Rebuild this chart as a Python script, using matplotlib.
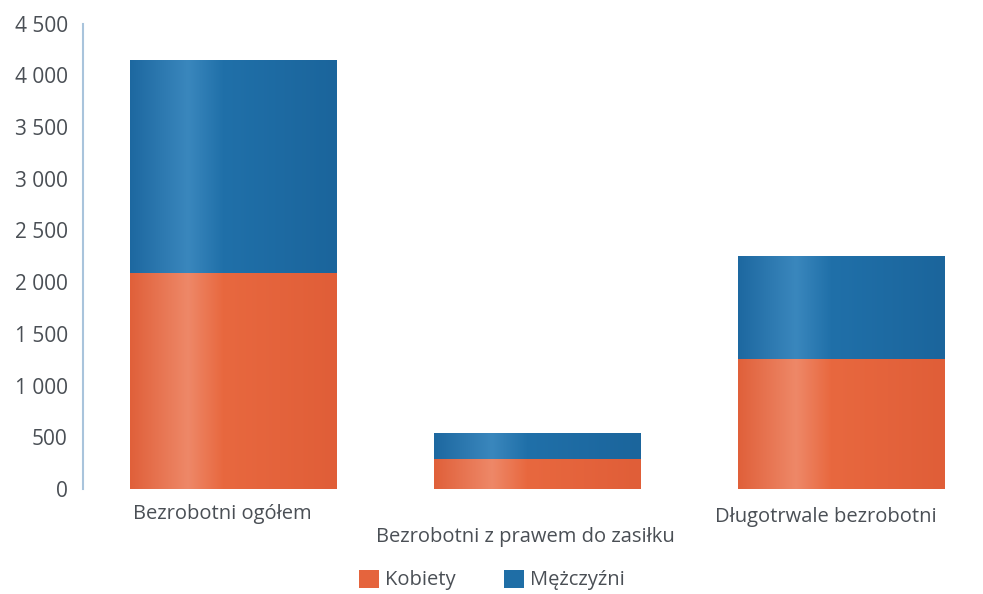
import numpy as np
import matplotlib.pyplot as plt
from matplotlib.colors import LinearSegmentedColormap

kategorie = ['Bezrobotni ogółem', 'Bezrobotni z prawem do zasiłku', 'Długotrwale bezrobotni']
kobiety = [2090, 290, 1260]
mezczyzni = [2060, 250, 990]
serie = ['Kobiety', 'Mężczyźni']
yticks = [0, 500, 1000, 1500, 2000, 2500, 3000, 3500, 4000, 4500]

plt.rcParams['font.family'] = ['Open Sans', 'DejaVu Sans']
kolor_txt = '#4a4f55'

c_kob = '#e5643d'
c_mez = '#1f6ea6'

# gradient "cylindryczny" jak w oryginale (delikatny)
cm_kob = LinearSegmentedColormap.from_list('kob', [(0, '#e0603a'), (0.28, '#ee8868'), (0.45, '#e8683f'), (1, '#e05e38')])
cm_mez = LinearSegmentedColormap.from_list('mez', [(0, '#1d68a0'), (0.28, '#3a87bd'), (0.45, '#2070a9'), (1, '#1b659c')])

fig = plt.figure(figsize=(9.83, 5.94), dpi=100)
ax = fig.add_axes([0.0845, 0.177, 0.913, 0.783])

x = np.arange(len(kategorie))
szer = 0.68
b1 = ax.bar(x, kobiety, szer, color=c_kob, label=serie[0], zorder=2)
b2 = ax.bar(x, mezczyzni, szer, bottom=kobiety, color=c_mez, label=serie[1], zorder=2)

grad = np.linspace(0, 1, 256).reshape(1, -1)
for bars, cm in [(b1, cm_kob), (b2, cm_mez)]:
    for p in bars:
        x0, y0 = p.get_x(), p.get_y()
        im = ax.imshow(grad, cmap=cm, aspect='auto', zorder=3,
                       extent=[x0, x0 + p.get_width(), y0, y0 + p.get_height()])
        im.set_clip_path(p)

ax.set_xlim(-0.493, 2.457)
ax.set_ylim(0, 4500)
ax.set_yticks(yticks)
ax.set_yticklabels([f'{v:,}'.replace(',', ' ') for v in yticks], fontsize=15, color=kolor_txt)
ax.tick_params(axis='y', length=0, pad=11)
ax.set_xticks([])

for s in ['top', 'right', 'bottom']:
    ax.spines[s].set_visible(False)
ax.spines['left'].set_color('#a9c4dc')
ax.spines['left'].set_linewidth(1.5)

# etykiety kategorii (srodkowa nizej)
offs = [-0.053, -0.103, -0.06]
dx = [-0.035, -0.04, -0.05]
for i, k in enumerate(kategorie):
    ax.text(x[i] + dx[i], offs[i], k, transform=ax.get_xaxis_transform(),
            ha='center', va='center', fontsize=14.5, color=kolor_txt)

fig.legend(loc='center', bbox_to_anchor=(492 / 983, 1 - 580 / 594), ncol=2, frameon=False,
           handlelength=1.0, handleheight=1.0, handletextpad=0.3, columnspacing=2.4,
           prop={'size': 14.5}, labelcolor=kolor_txt)

plt.savefig('out.png', dpi=100)
